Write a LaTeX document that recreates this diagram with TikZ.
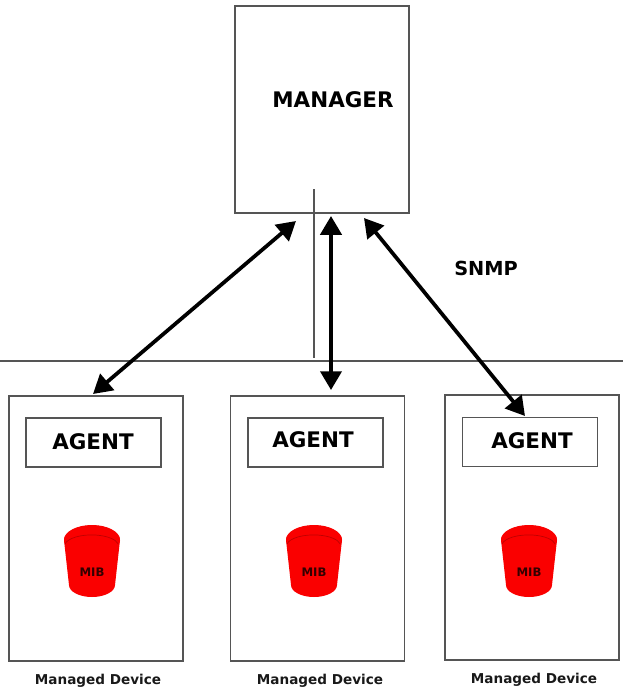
\documentclass[tikz,border=0pt]{standalone}
\usepackage{fontspec}
\setmainfont{DejaVu Sans}
\usetikzlibrary{arrows.meta}
\definecolor{mibred}{RGB}{250,0,0}
\definecolor{boxgray}{RGB}{85,85,85}
\tikzset{
  devbox/.style={draw=boxgray,line width=1.1pt,fill=white,inner sep=0pt},
  biglabel/.style={font=\bfseries\fontsize{18.3}{19}\selectfont,text=black},
  smalllabel/.style={font=\bfseries\fontsize{11.6}{12}\selectfont,text=black!90},
  thinline/.style={draw=boxgray,line width=1.1pt},
  linkarrow/.style={line width=3.2pt,black,{Triangle[length=16pt,width=18pt]}-{Triangle[length=16pt,width=18pt]}},
}
\begin{document}
\begin{tikzpicture}[x=0.03cm,y=-0.03cm]

    \useasboundingbox (0,0) rectangle (623,692);

    %Manager
    \node[devbox,minimum width=174*0.03cm,minimum height=207*0.03cm] (manager) at (322,109.5) {};
    \node[biglabel] (managertxt) at (333,100) {MANAGER};
    \node[biglabel,font=\bfseries\fontsize{16.5}{17}\selectfont] (snmp) at (486,268) {SNMP};

    %Lineas
    \coordinate (la) at (0,361);
    \coordinate (lb) at (623,361);
    \coordinate (va) at (314,189);
    \coordinate (vb) at (314,358);
    \draw[thinline] (la) -- (lb);
    \draw[thinline] (va) -- (vb);

    %Agentes
    \foreach \n/\bx/\by/\ax/\ay/\tx/\ty/\cx/\lx/\ly in {
        1/96/528.5/93.5/442.5/93/442/92/98/681,
        2/317.5/528.5/315.5/442.5/313/440/314/320/681,
        3/532/527.5/530/442/532/441/529/534/680}{
        \node[devbox,minimum width=174*0.03cm,minimum height=265*0.03cm] (dev\n) at (\bx,\by) {};
        \node[devbox,minimum width=135*0.03cm,minimum height=49*0.03cm] (agent\n) at (\ax,\ay) {};
        \node[biglabel] (agenttxt\n) at (\tx,\ty) {AGENT};
        \fill[mibred] (\cx-28,540) -- (\cx-23,585)
            arc[x radius=23,y radius=12,start angle=180,end angle=0]
            -- (\cx+28,540)
            arc[x radius=28,y radius=15,start angle=0,end angle=-180];
        \fill[mibred] (\cx,540) ellipse[x radius=28,y radius=14.5];
        \draw[red!75!black,line width=0.6pt] (\cx-27,544) arc[x radius=27,y radius=11,start angle=190,end angle=350];
        \node[font=\bfseries\fontsize{10}{10}\selectfont,text=black!80!red] (mib\n) at (\cx,572) {MIB};
        \node[smalllabel] (devtxt\n) at (\lx,\ly) {Managed Device};
    }

    %Flechas
    \coordinate (ma) at (296,221);
    \coordinate (mb) at (331,216);
    \coordinate (mc) at (364,218);
    \coordinate (da) at (93,394);
    \coordinate (db) at (331,390);
    \coordinate (dc) at (525,416);
    \draw[linkarrow] (ma) -- (da);
    \draw[linkarrow] (mb) -- (db);
    \draw[linkarrow] (mc) -- (dc);

\end{tikzpicture}
\end{document}
